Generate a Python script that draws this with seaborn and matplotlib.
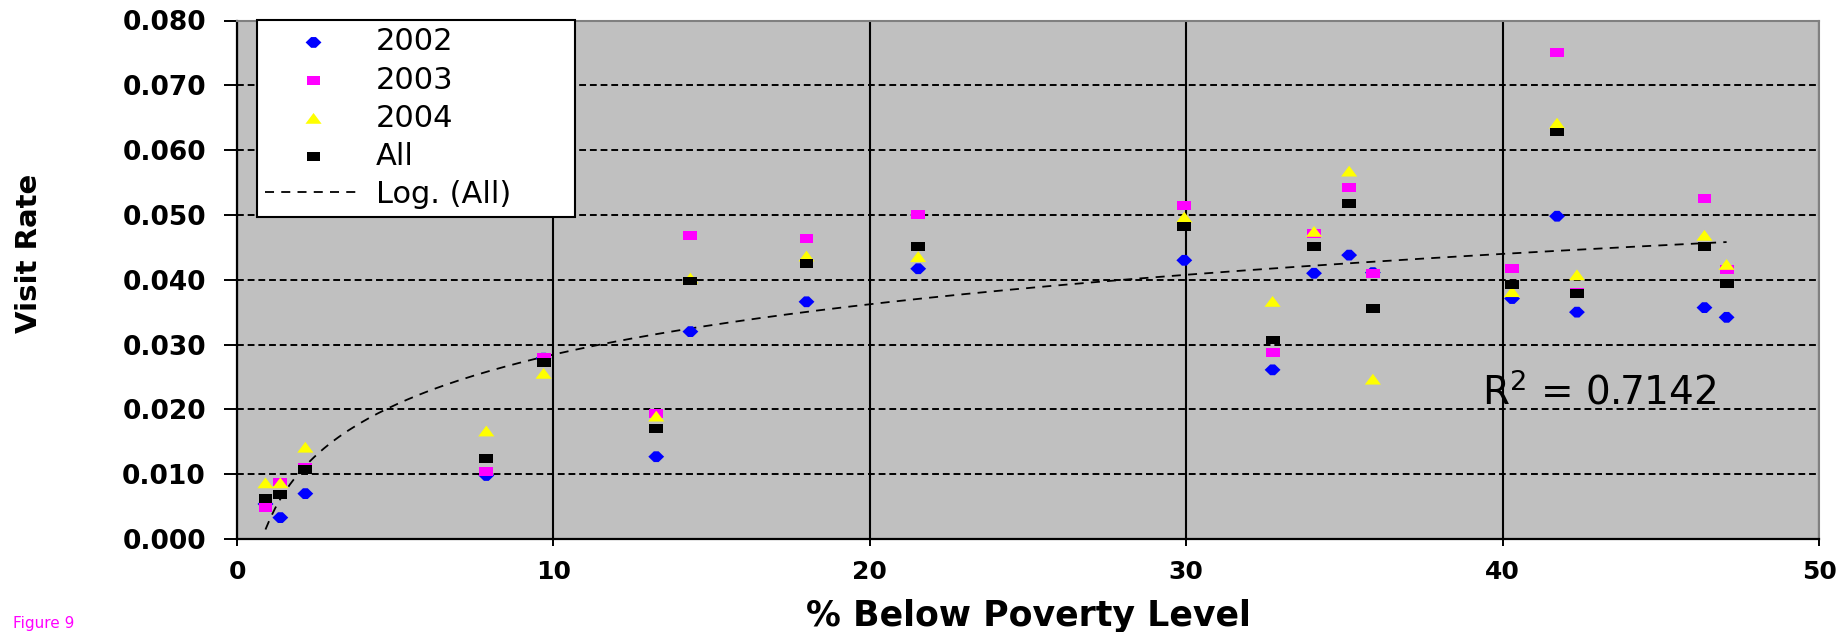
import numpy as np
import pandas as pd
import matplotlib
matplotlib.use("Agg")
import matplotlib.pyplot as plt
import seaborn as sns
from matplotlib.ticker import FormatStrFormatter

# ---------------- data ----------------
poverty = [0.9, 1.37, 2.16, 7.88, 9.69, 13.25, 14.33, 18.0, 21.53, 29.94,
           32.73, 34.04, 35.15, 35.9, 40.3, 41.72, 42.35, 46.38, 47.08]
rate_2002 = [0.0054, 0.0033, 0.0070, 0.0098, 0.0279, 0.0127, 0.0320, 0.0366, 0.0417, 0.0430,
             0.0261, 0.0410, 0.0438, 0.0411, 0.0371, 0.0498, 0.0350, 0.0357, 0.0342]
rate_2003 = [0.0049, 0.0088, 0.0110, 0.0104, 0.0280, 0.0193, 0.0468, 0.0464, 0.0501, 0.0515,
             0.0288, 0.0472, 0.0542, 0.0410, 0.0418, 0.0751, 0.0380, 0.0526, 0.0416]
rate_2004 = [0.0086, 0.0086, 0.0141, 0.0166, 0.0255, 0.0189, 0.0402, 0.0436, 0.0435, 0.0496,
             0.0366, 0.0474, 0.0567, 0.0246, 0.0381, 0.0641, 0.0407, 0.0468, 0.0423]
rate_all = [0.0063, 0.0069, 0.0107, 0.0124, 0.0272, 0.0170, 0.0398, 0.0425, 0.0451, 0.0482,
            0.0307, 0.0451, 0.0517, 0.0356, 0.0392, 0.0628, 0.0379, 0.0451, 0.0394]
series_labels = ["2002", "2003", "2004", "All"]
trend_label = "Log. (All)"
r2_text = "R$^2$ = 0.7142"
x_ticks = [0, 10, 20, 30, 40, 50]
y_ticks = [0.0, 0.01, 0.02, 0.03, 0.04, 0.05, 0.06, 0.07, 0.08]

# ---------------- style ----------------
sns.set_style("ticks")
plt.rcParams['font.family'] = ['DejaVu Sans']
plt.rcParams['text.color'] = 'black'
plt.rcParams['axes.labelcolor'] = 'black'
plt.rcParams['xtick.color'] = 'black'
plt.rcParams['ytick.color'] = 'black'

fig = plt.figure(figsize=(18.46, 6.32), dpi=100)
ax = fig.add_axes([237/1846, 1 - 539/632, (1819 - 237)/1846, (539 - 20.5)/632])
ax.set_facecolor("#C0C0C0")

# custom markers (Excel-like, slightly wider than tall)
m_diamond = [(-1, 0), (-0.3, 0.68), (0.3, 0.68), (1, 0), (0.3, -0.68), (-0.3, -0.68), (-1, 0)]
m_rect = [(-1, -0.64), (1, -0.64), (1, 0.64), (-1, 0.64), (-1, -0.64)]
m_tri = [(-1, -0.62), (1, -0.62), (0, 0.72), (-1, -0.62)]

specs = [
    (rate_2002, "#0000FF", m_diamond, 130),
    (rate_2003, "#FF00FF", m_rect, 100),
    (rate_2004, "#FFFF00", m_tri, 135),
    (rate_all, "#000000", m_rect, 100),
]

handles = []
for (vals, col, mk, sz), lab in zip(specs, series_labels):
    df = pd.DataFrame({"x": poverty, "y": vals})
    sns.scatterplot(data=df, x="x", y="y", ax=ax, color=col, marker=mk, s=sz,
                    linewidth=0, edgecolor="none", legend=False, label=lab, zorder=4)
    handles.append(ax.collections[-1])

# logarithmic trendline fitted on "All"
xa = np.array(poverty)
coef = np.polyfit(np.log(xa), np.array(rate_all), 1)
xfit = np.linspace(xa.min(), xa.max(), 300)
yfit = coef[0] * np.log(xfit) + coef[1]
sns.lineplot(x=xfit, y=yfit, ax=ax, color="black", linewidth=1.3,
             linestyle=(0, (5, 4)), label=trend_label, legend=False, zorder=3)
handles.append(ax.lines[-1])

# axes limits / ticks
ax.set_xlim(0, 50)
ax.set_ylim(0, 0.08)
ax.set_xticks(x_ticks)
ax.set_yticks(y_ticks)
ax.yaxis.set_major_formatter(FormatStrFormatter("%.3f"))

# grid: horizontal dashed, vertical solid
ax.set_axisbelow(True)
ax.yaxis.grid(True, color="black", linewidth=1.4, linestyle=(0, (3.5, 2)))
ax.xaxis.grid(True, color="black", linewidth=1.5, linestyle="-")

for side in ["top", "right"]:
    ax.spines[side].set_visible(True)
    ax.spines[side].set_color("#808080")
    ax.spines[side].set_linewidth(1.5)
for side in ["left", "bottom"]:
    ax.spines[side].set_color("black")
    ax.spines[side].set_linewidth(1.6)

ax.tick_params(axis="y", direction="out", length=9.4, width=1.4, pad=13,
               labelsize=19, colors="black")
ax.tick_params(axis="x", direction="out", length=5, width=1.4, pad=10,
               labelsize=18, colors="black")
for lbl in ax.get_xticklabels() + ax.get_yticklabels():
    lbl.set_fontweight("bold")

ax.set_xlabel("% Below Poverty Level", fontsize=25, fontweight="bold",
              va="center", color="black")
ax.xaxis.set_label_coords(0.5, (539 - 616) / 518.5)
ax.set_ylabel("Visit Rate", fontsize=21, fontweight="bold", va="center",
              color="black")
ax.yaxis.set_label_coords((29 - 237) / 1582, (539 - 253) / 518.5)

# R^2 annotation
ax.text(39.35, 0.0207, r2_text, fontsize=28, color="black", ha="left",
        va="baseline", zorder=5)

# legend (box stretched to the reference width)
leg = ax.legend(handles, series_labels + [trend_label], loc="upper left",
                bbox_to_anchor=((257 - 237) / 1582, (539 - 25) / 518.5,
                                318 / 1582, 0.01),
                mode="expand",
                borderaxespad=0, fontsize=22, frameon=True, fancybox=False,
                edgecolor="black", facecolor="white", framealpha=1,
                handlelength=3.2, handletextpad=0.45, labelspacing=0.3,
                borderpad=0.25, scatterpoints=1)
leg.get_frame().set_linewidth(1.5)
leg.set_zorder(6)

# figure caption at the bottom-left corner
fig.text(13 / 1846, 1 / 632, "Figure 9", color="#FF00FF", fontsize=11,
         ha="left", va="bottom")

fig.savefig("out.png", dpi=100)
